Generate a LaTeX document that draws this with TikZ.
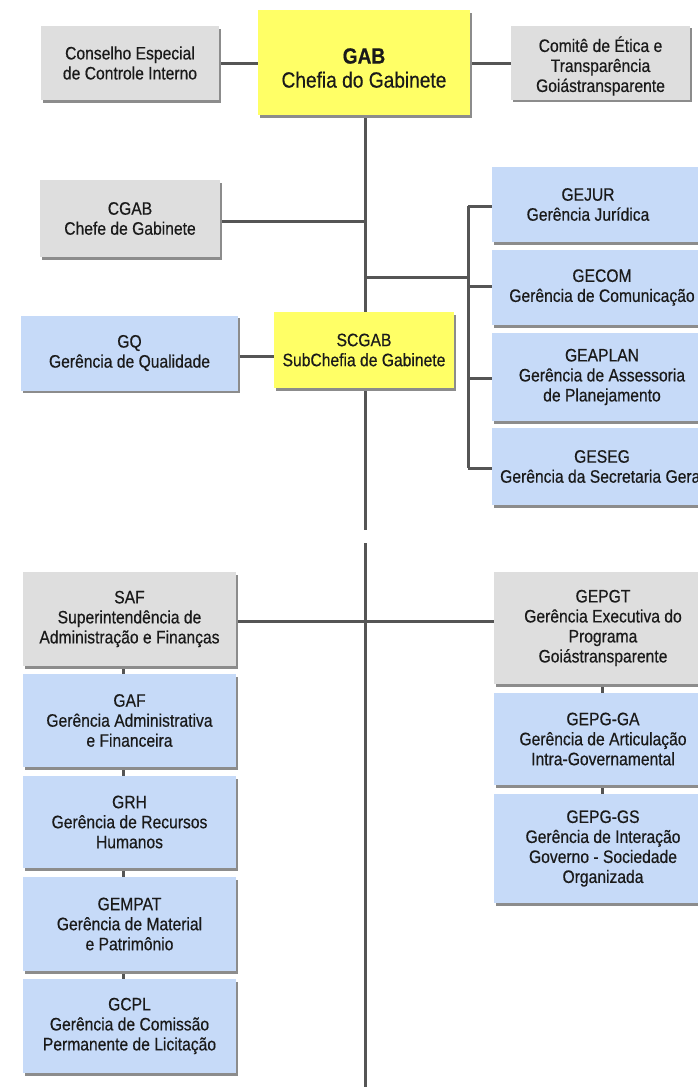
\documentclass[tikz,border=0pt]{standalone}
\usepackage{fontspec}
\setmainfont{Liberation Sans}[FakeStretch=0.87,FakeBold=0.5]
\usetikzlibrary{shadows}
\definecolor{yel}{HTML}{FFFF66}
\definecolor{gr}{HTML}{DEDEDE}
\definecolor{bl}{HTML}{C6DAF8}
\definecolor{ln}{HTML}{555555}
\definecolor{tx}{HTML}{1A1A1A}
\pgfdeclarelayer{bg}
\pgfsetlayers{bg,main}
\begin{document}
\begin{tikzpicture}[x=1pt,y=-1pt,
 box/.style={rectangle, inner sep=0pt, align=center, text=tx,
   font=\fontsize{18}{20}\selectfont,
   drop shadow={shadow xshift=2pt, shadow yshift=-2.5pt, fill=black!45, opacity=1}},
 ybox/.style={box, fill=yel},
 gbox/.style={box, fill=gr},
 bbox/.style={box, fill=bl},
 txt/.style={align=center, text=tx, font=\fontsize{18}{20}\selectfont, inner sep=0pt},
 conn/.style={draw=ln, line width=3pt}]
\useasboundingbox (0,0) rectangle (698,1087);
\clip (0,0) rectangle (698,1087);

% top row
\node[gbox, minimum width=178pt, minimum height=74pt] (cons) at (130,63) {Conselho Especial\\de Controle Interno};
\node[ybox, minimum width=212pt, minimum height=105pt] (gab) at (364,62.5) {};
\node[txt, font=\fontsize{22}{24}\selectfont] (gabt) at (364,68) {\textbf{GAB}\\Chefia do Gabinete};
\node[gbox, minimum width=179pt, minimum height=74pt] (comite) at (600.5,62.5) {};
\node[txt] (comitet) at (600.5,66) {Comitê de Ética e\\Transparência\\Goiástransparente};

% upper block
\node[gbox, minimum width=180pt, minimum height=77pt] (cgab) at (130,218.5) {CGAB\\Chefe de Gabinete};
\node[bbox, minimum width=220pt, minimum height=75pt] (gejur) at (602,204.5) {};
\node[txt] (gejurt) at (588,204.5) {GEJUR\\Gerência Jurídica};
\node[bbox, minimum width=220pt, minimum height=75pt] (gecom) at (602,287.5) {GECOM\\Gerência de Comunicação};
\node[bbox, minimum width=220pt, minimum height=88pt] (geaplan) at (602,377) {GEAPLAN\\Gerência de Assessoria\\de Planejamento};
\node[bbox, minimum width=220pt, minimum height=77pt] (geseg) at (602,466.5) {GESEG\\Gerência da Secretaria Geral};
\node[bbox, minimum width=217pt, minimum height=75pt] (gq) at (129.5,353) {GQ\\Gerência de Qualidade};
\node[ybox, minimum width=180pt, minimum height=76pt] (scgab) at (364,350) {SCGAB\\SubChefia de Gabinete};

% lower block
\node[gbox, minimum width=213pt, minimum height=94pt] (saf) at (129.5,619) {SAF\\Superintendência de\\Administração e Finanças};
\node[bbox, minimum width=213pt, minimum height=93pt] (gaf) at (129.5,720.5) {GAF\\Gerência Administrativa\\e Financeira};
\node[bbox, minimum width=213pt, minimum height=92pt] (grh) at (129.5,822) {GRH\\Gerência de Recursos\\Humanos};
\node[bbox, minimum width=213pt, minimum height=94pt] (gempat) at (129.5,924) {GEMPAT\\Gerência de Material\\e Patrimônio};
\node[bbox, minimum width=213pt, minimum height=94pt] (gcpl) at (129.5,1026) {GCPL\\Gerência de Comissão\\Permanente de Licitação};

\node[gbox, minimum width=218pt, minimum height=112pt] (gepgt) at (603,628) {GEPGT\\Gerência Executiva do\\Programa\\Goiástransparente};
\node[bbox, minimum width=218pt, minimum height=92pt] (gepgga) at (603,739) {GEPG-GA\\Gerência de Articulação\\Intra-Governamental};
\node[bbox, minimum width=218pt, minimum height=109pt] (gepggs) at (603,848.5) {GEPG-GS\\Gerência de Interação\\Governo - Sociedade\\Organizada};

% connector coordinates
\coordinate (t1) at (365,530);
\coordinate (t2) at (365,543);
\coordinate (t3) at (365,1087);
\coordinate (br) at (365,277);
\coordinate (bv) at (468,277);
\coordinate (bt) at (468,206);
\coordinate (bb) at (468,468);

\begin{pgfonlayer}{bg}
\draw[conn] (gab.south -| t1) -- (t1);
\draw[conn] (t2) -- (t3);
\draw[conn] (cons.east) -- (gab.west |- cons.east);
\draw[conn] (gab.east |- cons.east) -- (comite.west |- cons.east);
\draw[conn] (cgab.east |- 0,221) -- (365,221);
\draw[conn] (br) -- (bv);
\draw[conn] (bt) -- (bb);
\draw[conn] (bt) -- (gejur.west |- bt);
\draw[conn] (468,286) -- (gecom.west |- 0,286);
\draw[conn] (468,378) -- (geaplan.west |- 0,378);
\draw[conn] (bb) -- (geseg.west |- bb);
\draw[conn] (gq.east |- 0,356) -- (scgab.west |- 0,356);
\draw[conn] (saf.east |- 0,621) -- (gepgt.west |- 0,621);
\draw[conn] (saf.south -| 123,0) -- (gaf.north -| 123,0);
\draw[conn] (gaf.south -| 123,0) -- (grh.north -| 123,0);
\draw[conn] (grh.south -| 123,0) -- (gempat.north -| 123,0);
\draw[conn] (gempat.south -| 123,0) -- (gcpl.north -| 123,0);
\draw[conn] (gepgt.south -| 602,0) -- (gepgga.north -| 602,0);
\draw[conn] (gepgga.south -| 602,0) -- (gepggs.north -| 602,0);
\end{pgfonlayer}
\end{tikzpicture}
\end{document}
